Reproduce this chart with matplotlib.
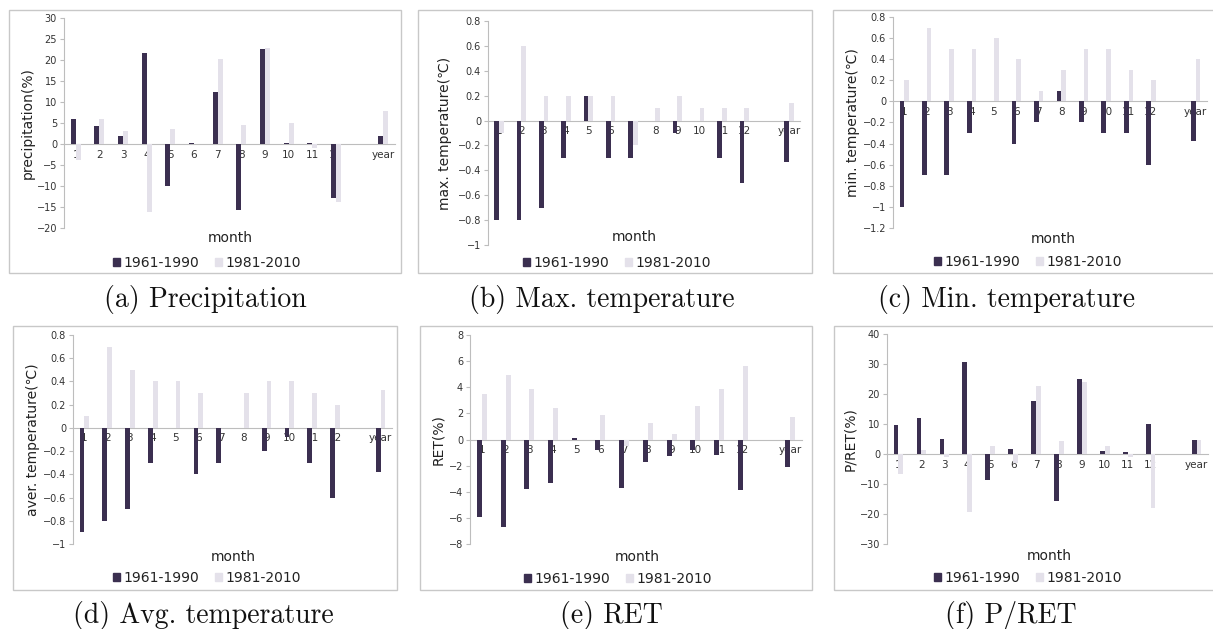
import numpy as np
import matplotlib
matplotlib.use("Agg")
import matplotlib.pyplot as plt
from matplotlib.ticker import MultipleLocator, FuncFormatter
from matplotlib.patches import Rectangle, Patch

nan = np.nan

# categories (empty slot before "year" as in the original chart)
months = ['1', '2', '3', '4', '5', '6', '7', '8', '9', '10', '11', '12', '', 'year']
series_names = ['1961-1990', '1981-2010']

precip_6190 = [6.0, 4.2, 1.9, 21.7, -10.0, 0.3, 12.5, -15.6, 22.7, 0.2, 0.2, -12.9, nan, 1.8]
precip_8110 = [-3.7, 6.0, 3.0, -16.3, 3.5, -0.1, 20.3, 4.6, 22.9, 5.0, -1.0, -13.7, nan, 7.9]

tmax_6190 = [-0.8, -0.8, -0.7, -0.3, 0.2, -0.3, -0.3, 0.0, -0.1, 0.0, -0.3, -0.5, nan, -0.33]
tmax_8110 = [-0.1, 0.6, 0.2, 0.2, 0.2, 0.2, -0.2, 0.1, 0.2, 0.1, 0.1, 0.1, nan, 0.14]

tmin_6190 = [-1.0, -0.7, -0.7, -0.3, 0.0, -0.4, -0.2, 0.1, -0.2, -0.3, -0.3, -0.6, nan, -0.38]
tmin_8110 = [0.2, 0.7, 0.5, 0.5, 0.6, 0.4, 0.1, 0.3, 0.5, 0.5, 0.3, 0.2, nan, 0.4]

tavg_6190 = [-0.9, -0.8, -0.7, -0.3, 0.0, -0.4, -0.3, 0.0, -0.2, -0.08, -0.3, -0.6, nan, -0.38]
tavg_8110 = [0.1, 0.7, 0.5, 0.4, 0.4, 0.3, 0.0, 0.3, 0.4, 0.4, 0.3, 0.2, nan, 0.33]

ret_6190 = [-5.9, -6.7, -3.8, -3.3, 0.13, -0.8, -3.7, -1.7, -1.3, -0.8, -1.2, -3.9, nan, -2.1]
ret_8110 = [3.5, 4.9, 3.9, 2.4, 0.0, 1.9, -0.5, 1.25, 0.43, 2.6, 3.9, 5.6, nan, 1.7]

pret_6190 = [9.8, 12.0, 5.0, 30.6, -8.8, 1.6, 17.8, -15.6, 25.0, 1.0, 0.7, 10.1, nan, 4.7]
pret_8110 = [-6.7, 1.4, -1.0, -19.4, 2.8, -3.0, 22.8, 4.3, 23.9, 2.8, -1.0, -18.0, nan, 4.8]

dark = '#3b2f50'
light = '#e4e1ea'
W, H = 1213, 629

plt.rcParams['font.family'] = ['DejaVu Sans', 'Noto Sans CJK KR']

fig = plt.figure(figsize=(W / 100, H / 100), dpi=100)

# panel: data, ylabel, caption, ylim, step, axes px (l, r, t, b), frame px (l, r, t, b),
#        ylabel x, month (x, y), legend (x, y), caption (x, y)
panels = [
    (precip_6190, precip_8110, 'precipitation(%)', '(a) Precipitation', (-20, 30), 5,
     (64, 395, 18, 228), (9, 401, 10, 273), 28, (230, 238), (207, 263), (205, 300)),
    (tmax_6190, tmax_8110, 'max. temperature(\u2103)', '(b) Max. temperature', (-1, 0.8), 0.2,
     (488, 800, 21, 245), (418, 812, 10, 273), 445, (634, 237), (617, 263), (602, 300)),
    (tmin_6190, tmin_8110, 'min. temperature(\u2103)', '(c) Min. temperature', (-1.2, 0.8), 0.2,
     (893, 1207, 17, 228), (833, 1216, 10, 273), 853, (1053, 239), (1028, 262), (1006, 300)),
    (tavg_6190, tavg_8110, 'aver. temperature(\u2103)', '(d) Avg. temperature', (-1, 0.8), 0.2,
     (73, 392, 335, 544), (13, 397, 326, 590), 33, (233, 557), (207, 578), (203, 616)),
    (ret_6190, ret_8110, 'RET(%)', '(e) RET', (-8, 8), 2,
     (470, 802, 335, 544), (420, 812, 326, 590), 438, (637, 557), (618, 579), (611, 616)),
    (pret_6190, pret_8110, 'P/RET(%)', '(f) P/RET', (-30, 40), 10,
     (887, 1208, 334, 544), (834, 1216, 326, 590), 850, (1049, 556), (1028, 578), (1011, 616)),
]

fmt = FuncFormatter(lambda v, p: ('%g' % round(v, 6)).replace('-', '\u2212'))
x = np.arange(len(months))
bw = 0.21

for (s1, s2, ylab, cap, ylim, step, box, frame, ylx, mpos, lpos, cpos) in panels:
    l, r, t, b = box
    ax = fig.add_axes([l / W, 1 - b / H, (r - l) / W, (b - t) / H])
    ax.bar(x - bw / 2, s1, width=bw, color=dark, zorder=3)
    ax.bar(x + bw / 2, s2, width=bw, color=light, zorder=3)
    ax.set_xlim(-0.5, len(months) - 0.5)
    ax.set_ylim(*ylim)
    ax.yaxis.set_major_locator(MultipleLocator(step))
    ax.yaxis.set_major_formatter(fmt)
    ax.set_xticks(x)
    ax.set_xticklabels(months)
    ax.spines['top'].set_visible(False)
    ax.spines['right'].set_visible(False)
    ax.spines['bottom'].set_position(('data', 0))
    ax.spines['bottom'].set_color('#bdbdbd')
    ax.spines['left'].set_color('#bdbdbd')
    ax.spines['bottom'].set_zorder(2)
    ax.tick_params(axis='x', length=0, pad=4, labelsize=7.5, labelcolor='#333333')
    ax.tick_params(axis='y', length=3, width=0.8, color='#bdbdbd', pad=2,
                   labelsize=7, labelcolor='#333333')
    for lab in ax.get_xticklabels():
        lab.set_zorder(5)

    fig.text(ylx / W, 1 - (t + b) / 2 / H, ylab, rotation=90, ha='center', va='center',
             fontsize=10, color='#222222')
    fig.text(mpos[0] / W, 1 - mpos[1] / H, 'month', ha='center', va='center',
             fontsize=10, color='#222222')
    handles = [Patch(color=dark), Patch(color=light)]
    fig.legend(handles, series_names, loc='center', ncol=2, frameon=False,
               bbox_to_anchor=(lpos[0] / W, 1 - lpos[1] / H), fontsize=10,
               handlelength=0.5, handleheight=0.5, handletextpad=0.3,
               columnspacing=1.1, labelcolor='#222222')
    fig.text(cpos[0] / W, 1 - cpos[1] / H, cap, ha='center', va='center',
             fontsize=20, family='cmr10', color='#111111')

    fl, fr, ft, fb = frame
    fig.patches.append(Rectangle((fl / W, 1 - fb / H), (fr - fl) / W, (fb - ft) / H,
                                 transform=fig.transFigure, fill=False,
                                 edgecolor='#c8c8c8', linewidth=1.0))

fig.savefig('out.png', dpi=100)
